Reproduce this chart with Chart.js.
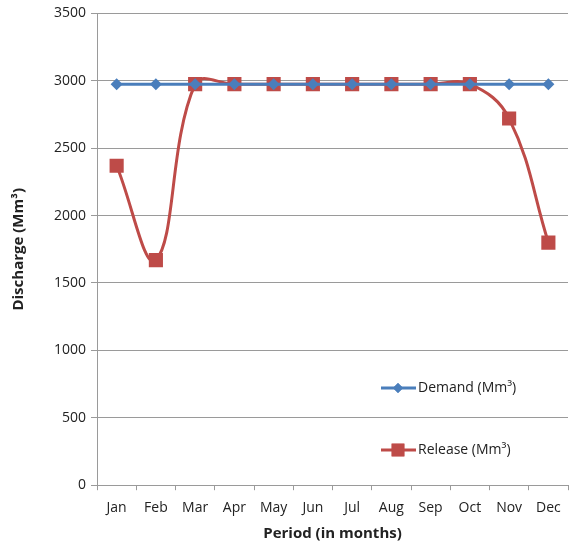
<!DOCTYPE html>
<html>
<head>
<meta charset="utf-8">
<script src="https://cdn.jsdelivr.net/npm/chart.js@4/dist/chart.umd.min.js"></script>
<style>
  html, body { margin: 0; padding: 0; background: #fff; }
  #wrap { width: 578px; height: 547px; position: relative; }
</style>
</head>
<body>
<div id="wrap"><canvas id="chart"></canvas></div>
<script>
const MONTHS = ["Jan", "Feb", "Mar", "Apr", "May", "Jun", "Jul", "Aug", "Sep", "Oct", "Nov", "Dec"];
const DEMAND = [2975, 2975, 2975, 2975, 2975, 2975, 2975, 2975, 2975, 2975, 2975, 2975];
const RELEASE = [2370, 1670, 2975, 2975, 2975, 2975, 2975, 2975, 2975, 2975, 2720, 1800];
const Y_TICKS = [0, 500, 1000, 1500, 2000, 2500, 3000, 3500];

const FONT = "'Open Sans', 'Liberation Sans', sans-serif";
const BLUE = "#4a7ebb";
const RED = "#be4b48";

// legend drawn inside the plot, bottom right, like the Excel original
const insideLegend = {
  id: "insideLegend",
  afterDraw(chart) {
    const ctx = chart.ctx;
    const items = [
      { label: "Demand (Mm³)", color: BLUE, style: "rectRot", r: 5, y: 388 },
      { label: "Release (Mm³)", color: RED, style: "rect", r: 9, y: 450 },
    ];
    ctx.save();
    items.forEach((it) => {
      ctx.strokeStyle = it.color;
      ctx.lineWidth = 3;
      ctx.beginPath();
      ctx.moveTo(381, it.y);
      ctx.lineTo(416, it.y);
      ctx.stroke();
      ctx.fillStyle = it.color;
      Chart.helpers.drawPoint(ctx, { pointStyle: it.style, radius: it.r, borderWidth: 0 }, 398, it.y);
      ctx.fill();
      ctx.fillStyle = "#222";
      ctx.font = `14px ${FONT}`;
      ctx.textBaseline = "middle";
      ctx.fillText(it.label, 418, it.y);
    });
    ctx.restore();
  },
};

new Chart(document.getElementById("chart"), {
  type: "line",
  data: {
    labels: MONTHS,
    datasets: [
      {
        label: "Demand (Mm³)", data: DEMAND,
        borderColor: BLUE, backgroundColor: BLUE, borderWidth: 3,
        pointStyle: "rectRot", pointRadius: 6, pointBorderWidth: 0, tension: 0,
      },
      {
        label: "Release (Mm³)", data: RELEASE,
        borderColor: RED, backgroundColor: RED, borderWidth: 3,
        pointStyle: "rect", pointRadius: 10, pointBorderWidth: 0,
        tension: 0.4, cubicInterpolationMode: "default",
      },
    ],
  },
  options: {
    responsive: true, maintainAspectRatio: false, animation: false,
    layout: { padding: { top: 9, right: 2, left: 6, bottom: 0 } },
    plugins: { legend: { display: false }, tooltip: { enabled: false } },
    scales: {
      x: {
        offset: true,
        grid: { drawOnChartArea: false, drawTicks: true, tickLength: 5, color: "#9a9a9a", offset: true },
        border: { color: "#9a9a9a", width: 1 },
        ticks: { color: "#222", font: { family: FONT, size: 14 }, padding: 9, maxRotation: 0, autoSkip: false },
        title: { display: true, text: "Period (in months)", color: "#222", font: { family: FONT, size: 15, weight: "bold" }, padding: { top: 0 } },
      },
      y: {
        min: 0, max: 3500,
        afterBuildTicks(axis) { axis.ticks = Y_TICKS.map((v) => ({ value: v })); },
        grid: { color: "#9a9a9a", tickLength: 6 },
        border: { color: "#9a9a9a", width: 1 },
        ticks: { color: "#222", font: { family: FONT, size: 14 }, padding: 5, callback: (v) => String(v) },
        title: { display: true, text: "Discharge (Mm³)", color: "#222", font: { family: FONT, size: 15, weight: "bold" }, padding: { bottom: 21 } },
      },
    },
  },
  plugins: [insideLegend],
});
</script>
</body>
</html>
